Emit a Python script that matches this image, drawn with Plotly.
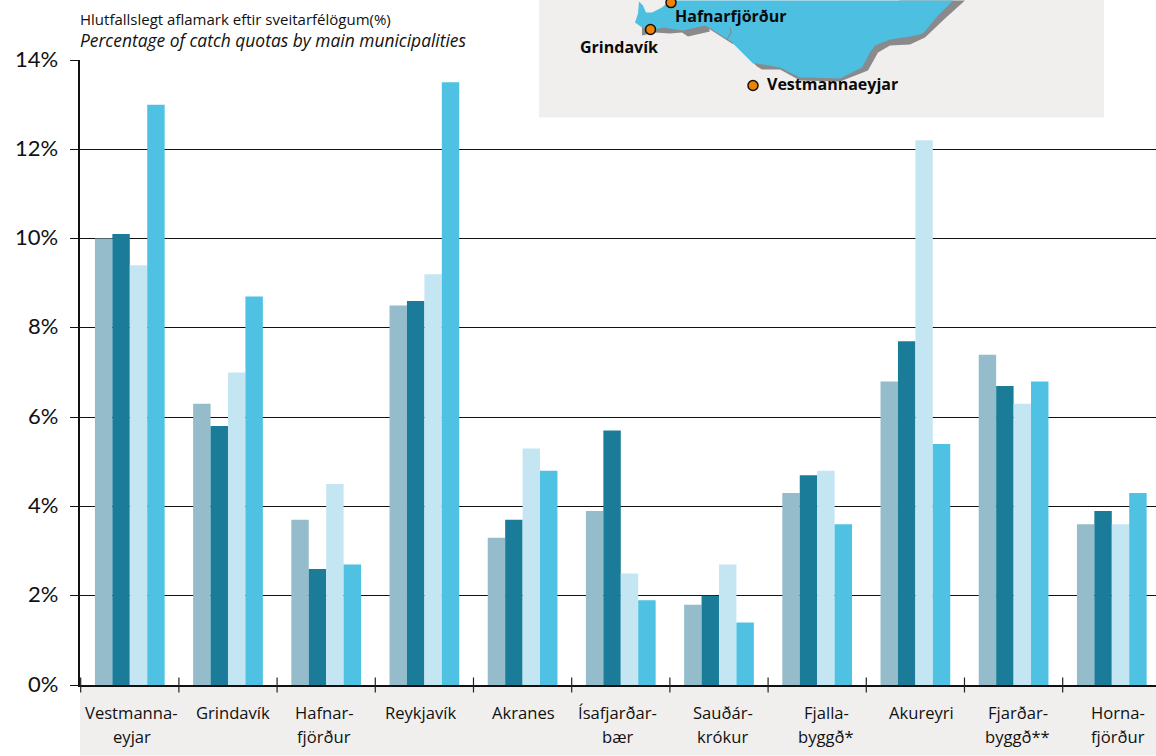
import plotly.graph_objects as go

categories = ["Vestmannaeyjar", "Grindavík", "Hafnarfjörður", "Reykjavík", "Akranes",
              "Ísafjarðarbær", "Sauðárkrókur", "Fjallabyggð*", "Akureyri",
              "Fjarðarbyggð**", "Hornafjörður"]
category_lines = [["Vestmanna-", "eyjar"], ["Grindavík"], ["Hafnar-", "fjörður"], ["Reykjavík"], ["Akranes"],
                  ["Ísafjarðar-", "bær"], ["Sauðár-", "krókur"], ["Fjalla-", "byggð*"], ["Akureyri"],
                  ["Fjarðar-", "byggð**"], ["Horna-", "fjörður"]]
series_1 = [10.0, 6.3, 3.7, 8.5, 3.3, 3.9, 1.8, 4.3, 6.8, 7.4, 3.6]
series_2 = [10.1, 5.8, 2.6, 8.6, 3.7, 5.7, 2.0, 4.7, 7.7, 6.7, 3.9]
series_3 = [9.4, 7.0, 4.5, 9.2, 5.3, 2.5, 2.7, 4.8, 12.2, 6.3, 3.6]
series_4 = [13.0, 8.7, 2.7, 13.5, 4.8, 1.9, 1.4, 3.6, 5.4, 6.8, 4.3]
colors = ["#94bccb", "#1a7c99", "#c4e6f3", "#4fc1e2"]
y_ticks = [0, 2, 4, 6, 8, 10, 12, 14]
y_labels = ["0%", "2%", "4%", "6%", "8%", "10%", "12%", "14%"]

L, R, T, B = 80.0, 1156.0, 59.5, 685.5
FONT = "Open Sans"
GREY = "#f0efed"
label_shift = [2, 5, -2, -4, 1, -3, 4, 9, 6, 4, 6]


def xp(x):
    return (x - L) / (R - L)


def yp(y):
    return (B - y) / (B - T)


def path(points):
    return "M " + " L ".join(f"{xp(x):.5f},{yp(y):.5f}" for x, y in points) + " Z"


def open_path(points):
    return "M " + " L ".join(f"{xp(x):.5f},{yp(y):.5f}" for x, y in points)


blue_land = [(639, 1), (643, 5), (646, 12), (652, 12), (662, 7), (670, 0), (953, 0), (938, 15), (923, 33),
             (910, 36), (890, 39), (875, 45), (870, 52), (862, 67), (840, 78), (810, 77), (800, 77),
             (780, 67), (757, 63), (753, 63), (733, 43), (727, 39), (710, 28), (705, 25), (683, 30),
             (663, 27), (655, 29), (642, 27), (635, 22), (638, 13)]
grey_west = [(642, 35), (655, 32), (670, 33), (682, 32), (688, 36), (710, 31), (706, 20), (650, 20), (642, 27)]
grey_east = [(753, 62), (757, 66), (762, 69), (780, 69), (800, 80), (840, 81), (868, 70), (878, 52), (890, 45),
             (910, 44), (925, 37), (945, 18), (965, 0), (900, 0), (800, 40)]
river = [(727, 39), (731, 32), (730, 27)]
coast = [(708, 27), (733, 43)]
dots = [(650.5, 29), (671, 2), (753, 85)]
map_labels = [("Hafnarfjörður", 674, 15, "left"), ("Grindavík", 659, 46, "right"), ("Vestmannaeyjar", 766, 84, "left")]

fig = go.Figure()
for name, vals, col in zip(["Series 1", "Series 2", "Series 3", "Series 4"],
                           [series_1, series_2, series_3, series_4], colors):
    fig.add_trace(go.Bar(x=categories, y=vals, name=name, marker=dict(color=col, line=dict(width=0))))

shapes = [
    dict(type="rect", xref="paper", yref="paper", x0=0, x1=1, y0=yp(756), y1=yp(687), fillcolor=GREY,
         line_width=0, layer="below"),
    dict(type="rect", xref="paper", yref="paper", x0=xp(539), x1=xp(1104), y0=yp(117), y1=yp(-2), fillcolor=GREY,
         line_width=0, layer="above"),
]
for pts in (grey_west, grey_east):
    shapes.append(dict(type="path", xref="paper", yref="paper", path=path(pts), fillcolor="#8a898c",
                       line_width=0, layer="above"))
shapes.append(dict(type="path", xref="paper", yref="paper", path=path(blue_land), fillcolor="#4dc0e2",
                   line_width=0, layer="above"))
for pts in (river, coast):
    shapes.append(dict(type="path", xref="paper", yref="paper", path=open_path(pts), line=dict(color="#8a898c", width=1.2),
                       layer="above"))
for x, y in dots:
    shapes.append(dict(type="circle", xref="paper", yref="paper", x0=xp(x - 5), x1=xp(x + 5), y0=yp(y + 5), y1=yp(y - 5),
                       fillcolor="#ee8205", line=dict(color="#111", width=1.5), layer="above"))
for i in range(len(categories)):
    shapes.append(dict(type="line", xref="x", yref="paper", x0=i - 0.5, x1=i - 0.5, y0=yp(693), y1=yp(678),
                       line=dict(color="#222", width=1.2), layer="above"))

annotations = [
    dict(text="Hlutfallslegt aflamark eftir sveitarfélögum(%)", x=xp(80), y=yp(18), xref="paper", yref="paper",
         xanchor="left", yanchor="middle", showarrow=False, xshift=-2, font=dict(family=FONT, size=15, color="#111")),
    dict(text="<i>Percentage of catch quotas by main municipalities</i>", x=xp(80), y=yp(39), xref="paper", yref="paper",
         xanchor="left", yanchor="middle", showarrow=False, xshift=-2, font=dict(family=FONT, size=17.4, color="#111")),
]
for text, x, y, anchor in map_labels:
    annotations.append(dict(text=f"<b>{text}</b>", x=xp(x), y=yp(y), xref="paper", yref="paper", xanchor=anchor,
                            yanchor="middle", showarrow=False, xshift=-1 if anchor == "left" else 1,
                            font=dict(family=FONT, size=16, color="#0a0a0a")))
for i, lines in enumerate(category_lines):
    for j, line in enumerate(lines):
        annotations.append(dict(text=line, x=i, y=yp(713 + 24 * j), xref="x", yref="paper", xanchor="center",
                                yanchor="middle", showarrow=False, xshift=label_shift[i],
                                font=dict(family=FONT, size=16.6, color="#111")))
for val, lab in zip(y_ticks, y_labels):
    annotations.append(dict(text=lab, x=xp(60), y=val, xref="paper", yref="y", xanchor="right", yanchor="middle",
                            showarrow=False, yshift=2, font=dict(family="Lato", size=22, color="#111")))

fig.update_layout(
    width=1156, height=756, autosize=False,
    margin=dict(l=L, r=1156 - R, t=T, b=756 - B, pad=0),
    paper_bgcolor="white", plot_bgcolor="white",
    showlegend=False, barmode="group", bargap=0.29, bargroupgap=0,
    shapes=shapes, annotations=annotations,
    xaxis=dict(type="category", categoryorder="array", categoryarray=categories,
               range=[-0.507, -0.507 + (R - L) / 98.2], showgrid=False, ticks="", showticklabels=False,
               showline=True, linecolor="#111", linewidth=1.6, automargin=False),
    yaxis=dict(range=[0, 14], tickvals=y_ticks, showticklabels=False, showgrid=True, gridcolor="#111", gridwidth=1.2,
               ticks="outside", ticklen=8, tickcolor="#111", tickwidth=1.2, showline=True, linecolor="#111",
               linewidth=1.6, zeroline=False, automargin=False),
)

fig.write_html("out.html", config={"displayModeBar": False},
               post_script="document.body.style.margin='0';document.body.style.overflow='hidden';")
